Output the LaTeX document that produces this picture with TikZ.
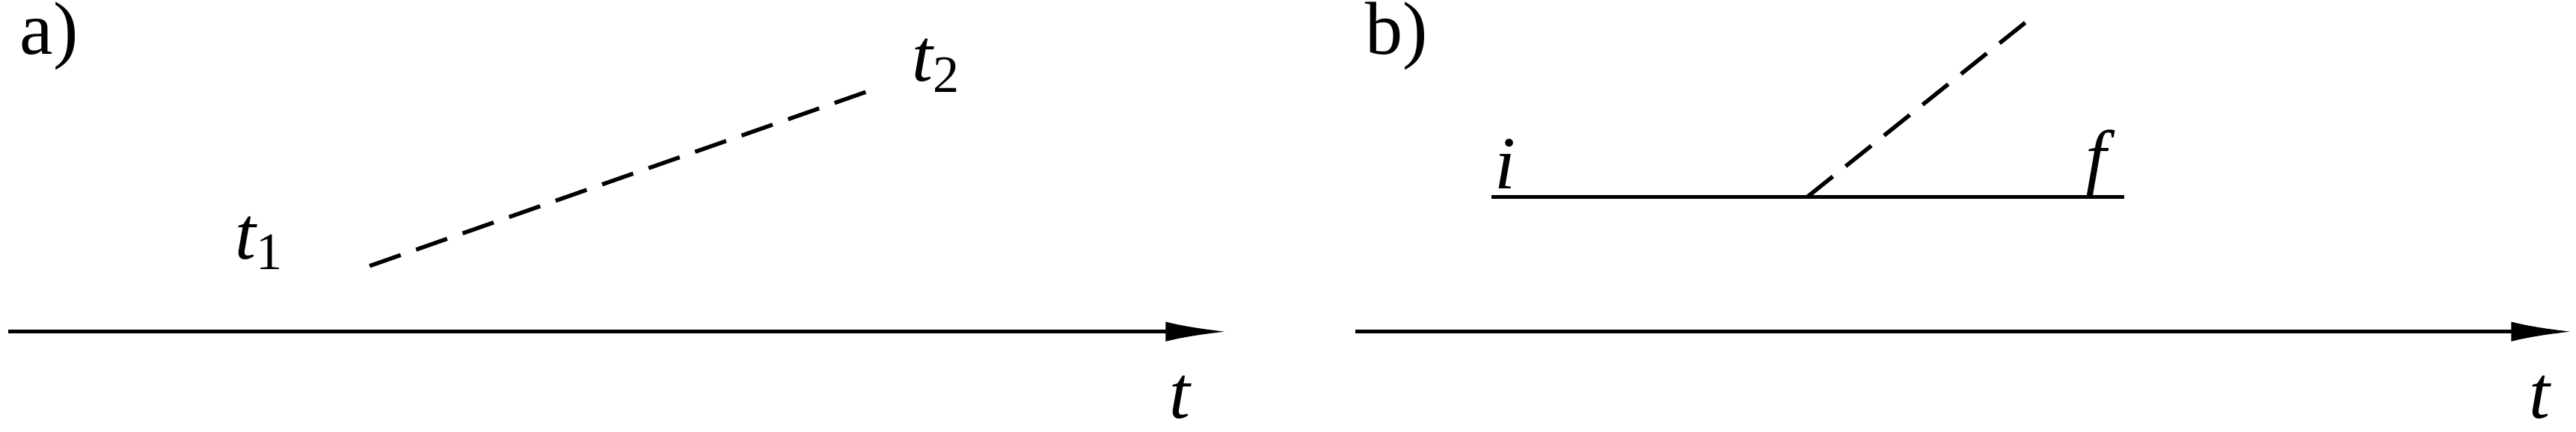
\documentclass[tikz,border=0pt]{standalone}
\usepackage{fontspec}
\setmainfont{Liberation Serif}
\usetikzlibrary{arrows.meta}
\begin{document}
\begin{tikzpicture}[x=0.02cm,y=-0.02cm,
  ln/.style={line width=1.4pt},
  dl/.style={line width=1.4pt,dash pattern=on 0.4cm off 0.2cm},
  ax/.style={line width=1.4pt,-{Latex[length=0.75cm,width=0.24cm]}},
  lb/.style={font=\fontsize{26}{30}\selectfont,inner sep=0pt}]
\useasboundingbox (0,0) rectangle (1568,263);
% a)
\node[lb] (la) at (30,22) {a)};
\coordinate (a0) at (5,202); \coordinate (a1) at (747,202);
\draw[ax] (a0) -- (a1);
\node[lb] (ta) at (718,242) {\itshape t};
\node[lb] (t1) at (158,148) {\itshape t\textsubscript{\upshape 1}};
\node[lb] (t2) at (570,40) {\itshape t\textsubscript{\upshape 2}};
\coordinate (d0) at (225,162); \coordinate (d1) at (530,55);
\draw[dl] (d0) -- (d1);
% b)
\node[lb] (lb2) at (850,22) {b)};
\coordinate (b0) at (825,202); \coordinate (b1) at (1566,202);
\draw[ax] (b0) -- (b1);
\node[lb] (tb) at (1546,242) {\itshape t};
\coordinate (s0) at (908,120); \coordinate (s1) at (1293,120);
\draw[ln] (s0) -- (s1);
\node[lb] (ni) at (916,100) {\itshape i};
\node[lb] (nf) at (1276,100) {\itshape f};
\coordinate (e0) at (1100,120); \coordinate (e1) at (1240,8);
\draw[dl] (e0) -- (e1);
\end{tikzpicture}
\end{document}
